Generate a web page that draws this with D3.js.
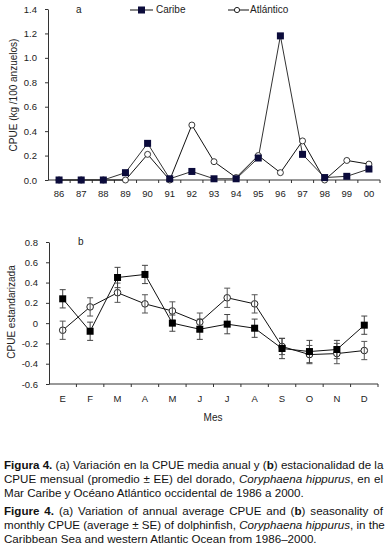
<!DOCTYPE html>
<html>
<head>
<meta charset="utf-8">
<script src="https://cdn.jsdelivr.net/npm/d3@7"></script>
<style>
body { margin:0; background:#fff; }
#wrap { position:relative; width:385px; height:547px; overflow:hidden; }
svg text { font-family: "Liberation Sans", Arial, sans-serif; fill:#222; }
.cap { position:absolute; left:4px; width:379px; font-family:"Liberation Sans Narrow","Arial Narrow","Liberation Sans",Arial,sans-serif;
       font-size:11.6px; line-height:14px; color:#111; white-space:nowrap; }
.cap.j { text-align:justify; text-align-last:justify; }
</style>
</head>
<body>
<div id="wrap"><svg id="chart" width="385" height="547"></svg></div>
<script>
// panel a: annual CPUE
const years = ["86","87","88","89","90","91","92","93","94","95","96","97","98","99","00"];
const caribeAnual   = [0, 0, 0, 0.06, 0.30, 0.01, 0.07, 0.01, 0.01, 0.18, 1.18, 0.21, 0.02, 0.03, 0.09];
const atlanticoAnual = [0, 0, 0, 0.00, 0.21, 0.00, 0.45, 0.15, 0.02, 0.20, 0.06, 0.32, 0.00, 0.16, 0.13];
const yTicksA = [0, 0.2, 0.4, 0.6, 0.8, 1.0, 1.2, 1.4];

// panel b: monthly standardized CPUE (mean ± SE)
const meses = ["E","F","M","A","M","J","J","A","S","O","N","D"];
const caribeMes    = [0.24, -0.08, 0.45, 0.48, 0.00, -0.06, -0.01, -0.05, -0.25, -0.28, -0.26, -0.02];
const caribeErr    = [0.09, 0.09, 0.10, 0.09, 0.08, 0.10, 0.095, 0.09, 0.10, 0.11, 0.09, 0.09];
const atlanticoMes = [-0.07, 0.16, 0.30, 0.19, 0.12, 0.01, 0.25, 0.19, -0.23, -0.31, -0.30, -0.27];
const atlanticoErr = [0.09, 0.09, 0.095, 0.09, 0.09, 0.09, 0.095, 0.09, 0.08, 0.09, 0.10, 0.09];
const yTicksB = [-0.6, -0.4, -0.2, 0, 0.2, 0.4, 0.6, 0.8];

const svg = d3.select('#chart');

function catAxis(g, xscale, y, labels, labelY) {
    g.append('line').attr('x1', xscale.range()[0]).attr('x2', xscale.range()[1])
        .attr('y1', y).attr('y2', y).attr('stroke', '#333');
    const bounds = xscale.domain().map(d => xscale(d)).concat([xscale.range()[1]]);
    g.selectAll('.tk').data(bounds.slice(1)).join('line').attr('class','tk')
        .attr('x1', d => d).attr('x2', d => d).attr('y1', y).attr('y2', y + 3).attr('stroke', '#333');
    g.selectAll('.lb').data(xscale.domain()).join('text').attr('class','lb')
        .attr('x', d => xscale(d) + xscale.bandwidth() / 2).attr('y', labelY)
        .attr('text-anchor', 'middle').attr('dominant-baseline', 'middle')
        .style('font-size', '9.5px').text((d, i) => labels[i]);
}

function valAxis(g, yscale, x, ticks, fmt) {
    g.attr('transform', `translate(${x},0)`)
        .call(d3.axisLeft(yscale).tickValues(ticks).tickSize(3).tickPadding(8).tickFormat(fmt).tickSizeOuter(0));
    g.select('.domain').attr('stroke', '#333');
    g.selectAll('.tick line').attr('stroke', '#333');
    g.selectAll('.tick text').style('font-size', '9.5px').attr('fill', '#222')
        .style('font-family', '"Liberation Sans", Arial, sans-serif');
}

// ---------- panel a ----------
const xa = d3.scaleBand().domain(years).range([48, 380]);
const ya = d3.scaleLinear().domain([0, 1.4]).range([180, 9]);
const ga = svg.append('g');
valAxis(ga.append('g'), ya, 48, yTicksA, d3.format('.1f'));
catAxis(ga.append('g'), xa, 180, years, 194);

const cxa = d => xa(d) + xa.bandwidth() / 2;
const lineA = d3.line().x((d, i) => cxa(years[i])).y(d => ya(d));
ga.append('path').datum(atlanticoAnual).attr('d', lineA).attr('fill', 'none').attr('stroke', '#111').attr('stroke-width', 1);
ga.append('path').datum(caribeAnual).attr('d', lineA).attr('fill', 'none').attr('stroke', '#333').attr('stroke-width', 1);
ga.selectAll('.ca').data(atlanticoAnual).join('circle').attr('class','ca')
    .attr('cx', (d, i) => cxa(years[i])).attr('cy', d => ya(d)).attr('r', 3)
    .attr('fill', '#fff').attr('stroke', '#222').attr('stroke-width', 0.9);
ga.selectAll('.sq').data(caribeAnual).join('rect').attr('class','sq')
    .attr('x', (d, i) => cxa(years[i]) - 3.5).attr('y', d => ya(d) - 3.5)
    .attr('width', 7).attr('height', 7).attr('fill', '#0b0b3b');

ga.append('text').attr('x', 76).attr('y', 10).attr('dominant-baseline','middle').style('font-size','10px').text('a');
ga.append('text').attr('transform', 'translate(14,95) rotate(-90)').attr('text-anchor','middle')
    .attr('dominant-baseline','middle').style('font-size','10px').text('CPUE (kg /100 anzuelos)');

// legend
const lg = ga.append('g');
lg.append('line').attr('x1',130).attr('x2',153).attr('y1',10).attr('y2',10).attr('stroke','#111');
lg.append('rect').attr('x',138).attr('y',6.5).attr('width',7).attr('height',7).attr('fill','#0b0b3b');
lg.append('text').attr('x',156).attr('y',10).attr('dominant-baseline','middle').style('font-size','10px').text('Caribe');
lg.append('line').attr('x1',228).attr('x2',249).attr('y1',10).attr('y2',10).attr('stroke','#111');
lg.append('circle').attr('cx',237).attr('cy',10).attr('r',2.6).attr('fill','#fff').attr('stroke','#222');
lg.append('text').attr('x',250).attr('y',10).attr('dominant-baseline','middle').style('font-size','10px').text('Atlántico');

// ---------- panel b ----------
const idx = d3.range(meses.length);
const xb = d3.scaleBand().domain(idx).range([49, 378]);
const yb = d3.scaleLinear().domain([-0.6, 0.8]).range([384, 242]);
const gb = svg.append('g');
valAxis(gb.append('g'), yb, 49, yTicksB, d => d === 0 ? '0' : d.toFixed(1));
catAxis(gb.append('g'), xb, 384, meses, 399);

const cxb = i => xb(i) + xb.bandwidth() / 2;
const lineB = d3.line().x((d, i) => cxb(i)).y(d => yb(d));
gb.append('path').datum(caribeMes).attr('d', lineB).attr('fill','none').attr('stroke','#111');
gb.append('path').datum(atlanticoMes).attr('d', lineB).attr('fill','none').attr('stroke','#111');

function errBars(vals, errs, color) {
    const g = gb.append('g').attr('stroke', color).attr('stroke-width', 1);
    vals.forEach((v, i) => {
        const x = cxb(i);
        g.append('line').attr('x1', x).attr('x2', x).attr('y1', yb(v - errs[i])).attr('y2', yb(v + errs[i]));
        g.append('line').attr('x1', x - 3).attr('x2', x + 3).attr('y1', yb(v - errs[i])).attr('y2', yb(v - errs[i]));
        g.append('line').attr('x1', x - 3).attr('x2', x + 3).attr('y1', yb(v + errs[i])).attr('y2', yb(v + errs[i]));
    });
}
gb.selectAll('.cb').data(atlanticoMes).join('circle').attr('class','cb')
    .attr('cx', (d, i) => cxb(i)).attr('cy', d => yb(d)).attr('r', 3.3)
    .attr('fill', '#fff').attr('stroke', '#222');
errBars(atlanticoMes, atlanticoErr, '#555');
errBars(caribeMes, caribeErr, '#444');
gb.selectAll('.sb').data(caribeMes).join('rect').attr('class','sb')
    .attr('x', (d, i) => cxb(i) - 3.5).attr('y', d => yb(d) - 3.5)
    .attr('width', 7).attr('height', 7).attr('fill', '#000');

gb.append('text').attr('x', 78).attr('y', 242).attr('dominant-baseline','middle').style('font-size','10px').text('b');
gb.append('text').attr('transform', 'translate(12,312) rotate(-90)').attr('text-anchor','middle')
    .attr('dominant-baseline','middle').style('font-size','10px').text('CPUE estandarizada');
gb.append('text').attr('x', 213).attr('y', 418).attr('text-anchor','middle').attr('dominant-baseline','middle')
    .style('font-size','10px').text('Mes');

// ---------- caption ----------
const caption = [
    {y: 458, j: true,  h: '<b>Figura 4.</b> (a) Variación en la CPUE media anual y (<b>b</b>) estacionalidad de la'},
    {y: 472, j: true,  h: 'CPUE mensual (promedio ± EE) del dorado, <i>Coryphaena hippurus</i>, en el'},
    {y: 486, j: false, h: 'Mar Caribe y Océano Atlántico occidental de 1986 a 2000.'},
    {y: 504, j: true,  h: '<b>Figure 4.</b> (a) Variation of annual average CPUE and (<b>b</b>) seasonality of'},
    {y: 518, j: true,  h: 'monthly CPUE (average ± SE) of dolphinfish, <i>Coryphaena hippurus</i>, in the'},
    {y: 532, j: false, h: 'Caribbean Sea and western Atlantic Ocean from 1986–2000.'}
];
d3.select('#wrap').selectAll('div.cap').data(caption).join('div')
    .attr('class', d => d.j ? 'cap j' : 'cap')
    .style('top', d => d.y + 'px')
    .html(d => d.h);
</script>
</body>
</html>
